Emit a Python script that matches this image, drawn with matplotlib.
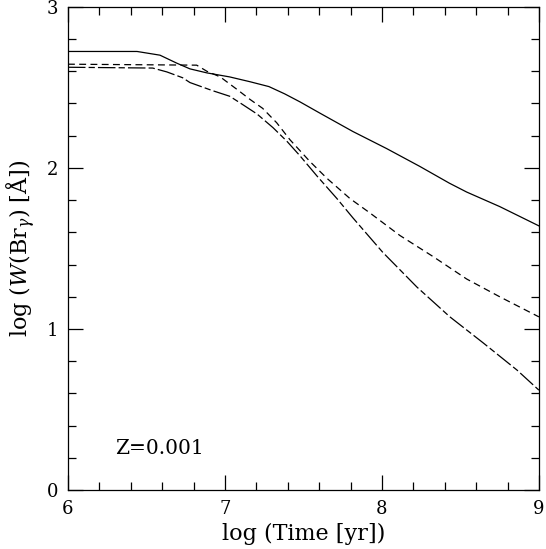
import matplotlib
matplotlib.use("Agg")
import matplotlib.pyplot as plt
from matplotlib.ticker import MultipleLocator

plt.rcParams["font.family"] = "DejaVu Serif"
plt.rcParams["mathtext.fontset"] = "dejavuserif"

# W(Br_gamma) vs edad, Z=0.001
t_solid = [6.0, 6.44, 6.586, 6.694, 6.777, 6.885, 7.03, 7.16, 7.28, 7.38, 7.478,
           7.605, 7.815, 8.03, 8.24, 8.43, 8.54, 8.75, 9.0]
w_solid = [2.723, 2.723, 2.70, 2.65, 2.615, 2.59, 2.565, 2.535, 2.505, 2.46, 2.41,
           2.34, 2.226, 2.12, 2.01, 1.905, 1.85, 1.76, 1.64]

t_dash = [6.0, 6.82, 6.885, 6.97, 7.08, 7.16, 7.24, 7.33, 7.414, 7.541,
          7.65, 7.796, 7.924, 8.115, 8.325, 8.54, 8.75, 9.0]
w_dash = [2.644, 2.638, 2.60, 2.565, 2.485, 2.425, 2.37, 2.28, 2.175, 2.04,
          1.935, 1.81, 1.72, 1.58, 1.45, 1.31, 1.20, 1.075]

t_long = [6.0, 6.54, 6.63, 6.73, 6.777, 6.92, 7.03, 7.096, 7.204, 7.306,
          7.395, 7.478, 7.586, 7.713, 7.815, 8.006, 8.223, 8.433, 8.643, 8.86, 9.0]
w_long = [2.625, 2.62, 2.596, 2.56, 2.53, 2.48, 2.445, 2.404, 2.335, 2.25,
          2.165, 2.075, 1.95, 1.81, 1.69, 1.475, 1.26, 1.075, 0.915, 0.745, 0.62]

fig = plt.figure(figsize=(5.46, 5.49), dpi=100)
ax = fig.add_axes([0.1245, 0.1075, 0.8625, 0.88])

ax.plot(t_solid, w_solid, "-", color="black", lw=0.9)
ax.plot(t_dash, w_dash, color="black", lw=0.9, dashes=(5.5, 3.5))
ax.plot(t_long, w_long, color="black", lw=0.9, dashes=(14, 2.5, 5, 2.5))

ax.set_xlim(6, 9)
ax.set_ylim(0, 3)
ax.xaxis.set_major_locator(MultipleLocator(1))
ax.xaxis.set_minor_locator(MultipleLocator(0.2))
ax.yaxis.set_major_locator(MultipleLocator(1))
ax.yaxis.set_minor_locator(MultipleLocator(0.2))
ax.tick_params(which="both", direction="in", top=True, right=True,
               width=0.9, labelsize=13, pad=7)
ax.tick_params(which="major", length=11)
ax.tick_params(which="minor", length=5.5)
for s in ax.spines.values():
    s.set_linewidth(0.9)

ax.set_xlabel("log (Time [yr])", fontsize=16, labelpad=4)
ax.set_ylabel(r"log ($W$(Br$_\gamma$) [Å])", fontsize=16, labelpad=6)
ax.text(6.30, 0.255, "Z=0.001", fontsize=14.5, va="center", ha="left")

fig.savefig("out.png", dpi=100)
